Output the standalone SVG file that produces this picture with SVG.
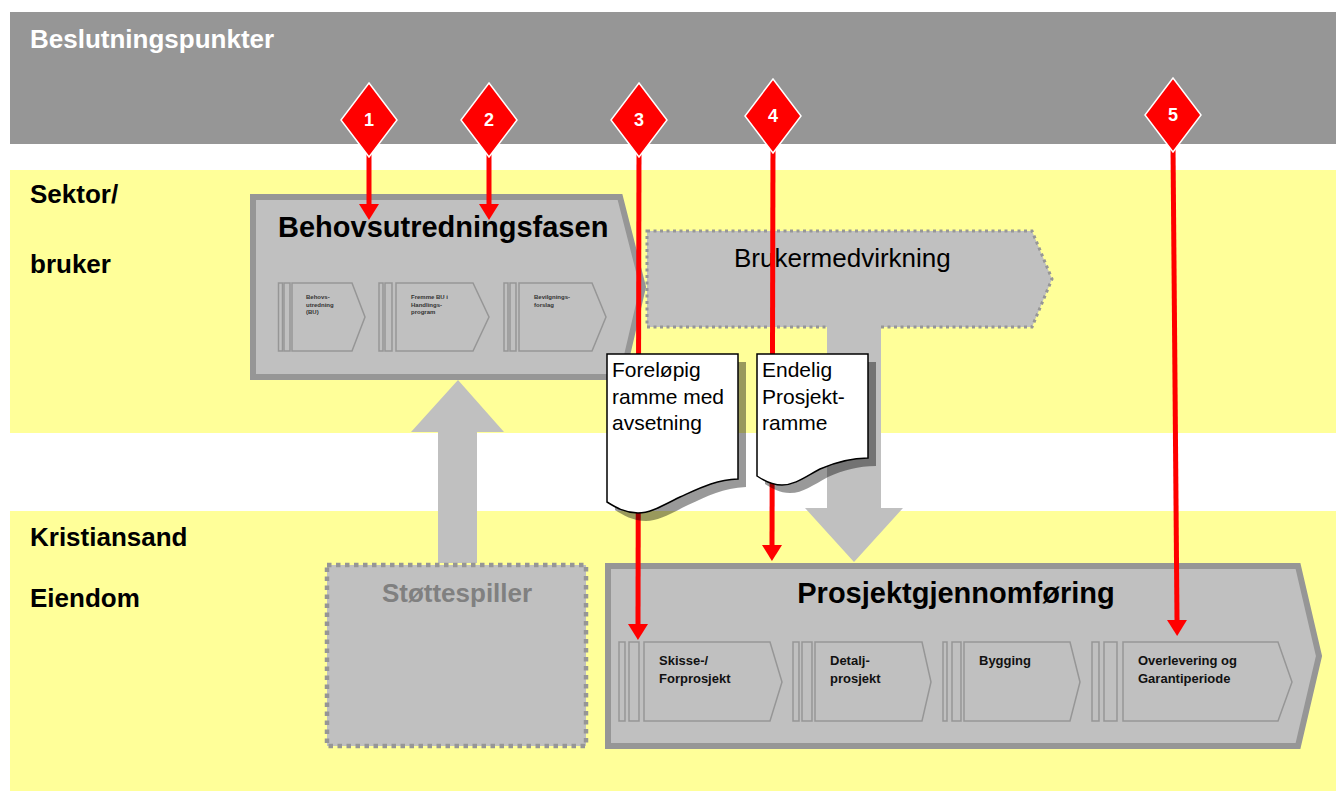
<svg xmlns="http://www.w3.org/2000/svg" width="1344" height="791" viewBox="0 0 1344 791">
<style>
  .band { fill: #FFFF99; }
  .lane { font-family: "Liberation Sans", Arial, sans-serif; font-weight: bold; font-size: 26px; fill: #000; }
  .box { fill: #C0C0C0; stroke: #969696; stroke-width: 6; stroke-linejoin: miter; }
  .dotted { fill: #C0C0C0; stroke: #969696; }
  .title { font-family: "Liberation Sans", Arial, sans-serif; font-weight: bold; font-size: 29px; fill: #000; }
  .chev { fill: none; stroke: #969696; stroke-width: 1.5; }
  .tiny { font-family: "Liberation Sans", Arial, sans-serif; font-weight: bold; font-size: 6px; fill: #333; }
  .sub { font-family: "Liberation Sans", Arial, sans-serif; font-weight: bold; font-size: 13px; fill: #111; }
  .doc { fill: #FFFFFF; stroke: #000; stroke-width: 1.5; }
  .shadow { fill: #000; fill-opacity: 0.4; }
  .doctext { font-family: "Liberation Sans", Arial, sans-serif; font-size: 21px; fill: #000; }
  .red { stroke: #FF0000; stroke-width: 5; fill: none; }
  .dia { fill: #FF0000; stroke: #FFFFFF; stroke-width: 1.5; }
  .num { font-family: "Liberation Sans", Arial, sans-serif; font-weight: bold; font-size: 18px; fill: #FFFFFF; text-anchor: middle; }
  .block { fill: #C0C0C0; }
</style>
<defs>
  <marker id="ah" viewBox="0 0 16 20" refX="0" refY="10" markerWidth="16" markerHeight="20" markerUnits="userSpaceOnUse" orient="auto">
    <path d="M0,0 L16,10 L0,20 Z" fill="#FF0000"/>
  </marker>
</defs>

<!-- background bands -->
<g id="bands">
  <rect x="10" y="12" width="1326" height="132" fill="#969696"/>
  <text x="30" y="48" class="lane" style="fill:#FFFFFF">Beslutningspunkter</text>
  <rect class="band" x="10" y="170" width="1326" height="263"/>
  <rect class="band" x="10" y="511" width="1326" height="280"/>
  <text x="30" y="203" class="lane">Sektor/</text>
  <text x="30" y="273" class="lane">bruker</text>
  <text x="30" y="546" class="lane">Kristiansand</text>
  <text x="30" y="607" class="lane">Eiendom</text>
</g>

<!-- block arrows -->
<g id="flow-arrows">
  <path class="block" d="M438,563 V432 H411 L458,380 L504,432 H477 V563 Z"/>
</g>

<!-- Brukermedvirkning -->
<g id="brukermedvirkning">
  <path class="dotted" d="M647,231 H1032 L1052,279 L1032,327 H647 Z" stroke-width="3" stroke-dasharray="3 3.5"/>
  <text x="734" y="267" class="doctext" style="font-size:26px">Brukermedvirkning</text>
</g>
<g id="flow-arrow-down">
  <path class="block" d="M827,325 H881 V508 H903 L854,562 L805,508 H827 Z"/>
</g>

<!-- Støttespiller -->
<g id="stottespiller">
  <rect class="dotted" x="327" y="565" width="259" height="181" stroke-width="4.5" stroke-dasharray="4.5 4.5"/>
  <text x="457" y="602" class="title" style="font-size:26px;fill:#808080" text-anchor="middle">Støttespiller</text>
</g>

<!-- Behovsutredningsfasen -->
<g id="behovsutredningsfasen">
  <path class="box" d="M253,197 H620 L643,287 L622,377 H253 Z"/>
  <text x="278" y="237" class="title">Behovsutredningsfasen</text>
  <rect class="chev" x="278.5" y="283" width="4" height="68"/>
  <rect class="chev" x="284" y="283" width="6" height="68"/>
  <path class="chev" d="M292,283 H352 L365,317 L352,351 H292 Z"/>
  <text class="tiny"><tspan x="306" y="299">Behovs-</tspan><tspan x="306" y="306.5">utredning</tspan><tspan x="306" y="314">(BU)</tspan></text>
  <rect class="chev" x="379" y="283" width="4" height="68"/>
  <rect class="chev" x="385" y="283" width="7" height="68"/>
  <path class="chev" d="M396,283 H473 L489,317 L473,351 H396 Z"/>
  <text class="tiny"><tspan x="411" y="299">Fremme  BU i</tspan><tspan x="411" y="306.5">Handlings-</tspan><tspan x="411" y="314">program</tspan></text>
  <rect class="chev" x="504" y="283" width="4" height="68"/>
  <rect class="chev" x="510" y="283" width="6" height="68"/>
  <path class="chev" d="M519,283 H592 L606,317 L592,351 H519 Z"/>
  <text class="tiny"><tspan x="534" y="299">Bevilgnings-</tspan><tspan x="534" y="306.5">forslag</tspan></text>
</g>

<!-- Prosjektgjennomføring -->
<g id="prosjektgjennomforing">
  <path class="box" d="M608,566 H1298 L1319,656 L1298,746 H608 Z"/>
  <text x="956" y="603" class="title" text-anchor="middle">Prosjektgjennomføring</text>
  <rect class="chev" x="619" y="642" width="6" height="79"/>
  <rect class="chev" x="629" y="642" width="10" height="79"/>
  <path class="chev" d="M644,642 H770 L782,682 L770,721 H644 Z"/>
  <text class="sub"><tspan x="659" y="665">Skisse-/</tspan><tspan x="659" y="683">Forprosjekt</tspan></text>
  <rect class="chev" x="793" y="642" width="6" height="79"/>
  <rect class="chev" x="802" y="642" width="10" height="79"/>
  <path class="chev" d="M815,642 H922 L931,682 L922,721 H815 Z"/>
  <text class="sub"><tspan x="830" y="665">Detalj-</tspan><tspan x="830" y="683">prosjekt</tspan></text>
  <rect class="chev" x="943" y="642" width="4" height="79"/>
  <rect class="chev" x="952" y="642" width="9" height="79"/>
  <path class="chev" d="M964,642 H1070 L1080,682 L1070,721 H964 Z"/>
  <text class="sub"><tspan x="979" y="665">Bygging</tspan></text>
  <rect class="chev" x="1092" y="642" width="7" height="79"/>
  <rect class="chev" x="1104" y="642" width="13" height="79"/>
  <path class="chev" d="M1123,642 H1278 L1292,682 L1278,721 H1123 Z"/>
  <text class="sub"><tspan x="1138" y="665">Overlevering og</tspan><tspan x="1138" y="683">Garantiperiode</tspan></text>
</g>

<!-- decision connectors -->
<g id="connectors">
  <line class="red" x1="369" y1="150" x2="369" y2="204" marker-end="url(#ah)"/>
  <line class="red" x1="489" y1="150" x2="489" y2="204" marker-end="url(#ah)"/>
  <line class="red" x1="639" y1="150" x2="638" y2="624" marker-end="url(#ah)"/>
  <line class="red" x1="773" y1="146" x2="772" y2="545" marker-end="url(#ah)"/>
  <line class="red" x1="1173" y1="146" x2="1177" y2="620" marker-end="url(#ah)"/>
</g>

<!-- documents -->
<g id="doc-forelopig">
  <path class="shadow" transform="translate(8,8)" d="M607,354 H738 V479 C715,480 700,488 680,497 C660,507 650,513 638,513 C625,513 615,507 607,502 Z"/>
  <path class="doc" d="M607,354 H738 V479 C715,480 700,488 680,497 C660,507 650,513 638,513 C625,513 615,507 607,502 Z"/>
  <text class="doctext"><tspan x="612" y="377">Foreløpig</tspan><tspan x="612" y="404">ramme med</tspan><tspan x="612" y="430">avsetning</tspan></text>
</g>
<g id="doc-endelig">
  <path class="shadow" transform="translate(8,8)" d="M757,354 H868 V458 C850,458 836,462 820,469 C805,477 795,485 782,485 C772,485 763,480 757,476 Z"/>
  <path class="doc" d="M757,354 H868 V458 C850,458 836,462 820,469 C805,477 795,485 782,485 C772,485 763,480 757,476 Z"/>
  <text class="doctext"><tspan x="762" y="377">Endelig</tspan><tspan x="762" y="404">Prosjekt-</tspan><tspan x="762" y="430">ramme</tspan></text>
</g>

<!-- decision points -->
<g id="dp1"><path class="dia" d="M369,83 L397,120 L369,157 L341,120 Z"/><text class="num" x="369" y="126">1</text></g>
<g id="dp2"><path class="dia" d="M489,83 L517,120 L489,157 L461,120 Z"/><text class="num" x="489" y="126">2</text></g>
<g id="dp3"><path class="dia" d="M639,83 L667,120 L639,157 L611,120 Z"/><text class="num" x="639" y="126">3</text></g>
<g id="dp4"><path class="dia" d="M773,79 L801,116 L773,153 L745,116 Z"/><text class="num" x="773" y="122">4</text></g>
<g id="dp5"><path class="dia" d="M1173,78 L1201,115 L1173,152 L1145,115 Z"/><text class="num" x="1173" y="121">5</text></g>
</svg>
